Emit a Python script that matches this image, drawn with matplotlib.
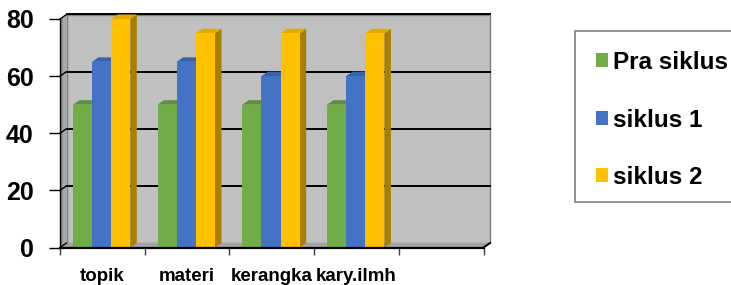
import numpy as np
import matplotlib
matplotlib.use('Agg')
import matplotlib.pyplot as plt
from matplotlib.patches import Polygon, Rectangle, Patch

plt.rcParams['font.family'] = ['Liberation Sans', 'DejaVu Sans']
plt.rcParams['font.weight'] = 'bold'

# data
categories = ['topik', 'materi', 'kerangka', 'kary.ilmh']
series_names = ['Pra siklus', 'siklus 1', 'siklus 2']
pra_siklus = [50, 50, 50, 50]
siklus_1 = [65, 65, 60, 60]
siklus_2 = [80, 75, 75, 75]
yticks = [0, 20, 40, 60, 80]

front_cols = ['#70ad47', '#4472c4', '#ffc000']
top_cols = ['#5c9139', '#3862ad', '#e3aa00']
side_cols = ['#4e7a30', '#2f5597', '#a97f00']

W, H = 731, 285
fig = plt.figure(figsize=(W / 100, H / 100), dpi=100)

n_slots = len(categories) + 1          # one empty slot on the right
x0_px, x1_px = 60, 483.5
y0_px, y1_px = 247.5, 19
ax = fig.add_axes([x0_px / W, 1 - y0_px / H, (x1_px - x0_px) / W, (y0_px - y1_px) / H])
ax.set_xlim(0, n_slots)
ax.set_ylim(0, 80)

px_x = n_slots / (x1_px - x0_px)
px_y = 80 / (y0_px - y1_px)
dx = 6.5 * px_x
dy = 4.5 * px_y
ymax = 80

# walls and floor
ax.add_patch(Polygon([(0, 0), (dx, dy), (dx, ymax + dy), (0, ymax)],
                     closed=True, fc='#8f8f8f', ec='none', clip_on=False, zorder=1))
ax.add_patch(Polygon([(dx * 0.45, dy * 0.45), (dx, dy), (dx, ymax + dy), (dx * 0.45, ymax + dy * 0.45)],
                     closed=True, fc='#a9a9a9', ec='none', clip_on=False, zorder=1))
ax.add_patch(Rectangle((dx, dy), n_slots, ymax, fc='#c0c0c0', ec='#7f7f7f', lw=1,
                       clip_on=False, zorder=1))
ax.add_patch(Polygon([(0, 0), (n_slots, 0), (n_slots + dx, dy), (dx, dy)],
                     closed=True, fc='#a3a3a3', ec='none', clip_on=False, zorder=1))

for v in yticks[1:]:
    ax.plot([dx, n_slots + dx], [v + dy, v + dy], color='black', lw=1.4,
            clip_on=False, zorder=2)
for v in yticks:
    ax.plot([0, dx], [v, v + dy], color='black', lw=1.0, clip_on=False, zorder=2)

ax.plot([n_slots, n_slots + dx], [0, dy], color='black', lw=1.4, clip_on=False, zorder=3)

# bars
bw = 0.226
start = 0.152
values = [pra_siklus, siklus_1, siklus_2]
for i in range(len(categories)):
    for j, vals in enumerate(values):
        x = i + start + j * bw
        h = vals[i]
        ax.add_patch(Polygon([(x + bw, 0), (x + bw + dx, dy), (x + bw + dx, h + dy), (x + bw, h)],
                             closed=True, fc=side_cols[j], ec='none', clip_on=False, zorder=4))
        ax.add_patch(Polygon([(x, h), (x + bw, h), (x + bw + dx, h + dy), (x + dx, h + dy)],
                             closed=True, fc=top_cols[j], ec='none', clip_on=False, zorder=4))
        ax.add_patch(Rectangle((x, 0), bw, h, fc=front_cols[j], ec='none',
                               clip_on=False, zorder=4))

# axes
for s in ['top', 'right']:
    ax.spines[s].set_visible(False)
ax.spines['left'].set_color('black')
ax.spines['left'].set_linewidth(1.0)
ax.spines['left'].set_zorder(5)
ax.spines['bottom'].set_color('black')
ax.spines['bottom'].set_linewidth(1.6)
ax.spines['bottom'].set_zorder(5)
ax.set_facecolor('none')

ax.set_yticks(yticks)
ax.set_yticklabels([str(v) for v in yticks])
ax.tick_params(axis='y', direction='out', length=8, width=1, color='black',
               labelsize=18, pad=11)

ax.set_xticks(np.arange(n_slots + 1))
ax.set_xticklabels([])
ax.tick_params(axis='x', which='major', direction='out', length=5, width=1, color='#404040')
ax.set_xticks(np.arange(len(categories)) + 0.5, minor=True)
ax.set_xticklabels(categories, minor=True)
ax.tick_params(axis='x', which='minor', length=0, labelsize=13.5, pad=15)

# legend
fig.patches.append(Rectangle((575 / W, 1 - 202 / H), 0.5, 171 / H, transform=fig.transFigure,
                             fc='white', ec='#7f7f7f', lw=1.2, figure=fig))
handles = [Patch(fc=c, ec='none') for c in front_cols]
leg = fig.legend(handles, series_names, loc='upper left', bbox_to_anchor=(596 / W, 1 - 51 / H),
                 frameon=False, fontsize=17.5, handlelength=0.5, handleheight=0.5,
                 handletextpad=0.2, labelspacing=1.42, borderpad=0, borderaxespad=0)

fig.savefig('out.png', dpi=100)
